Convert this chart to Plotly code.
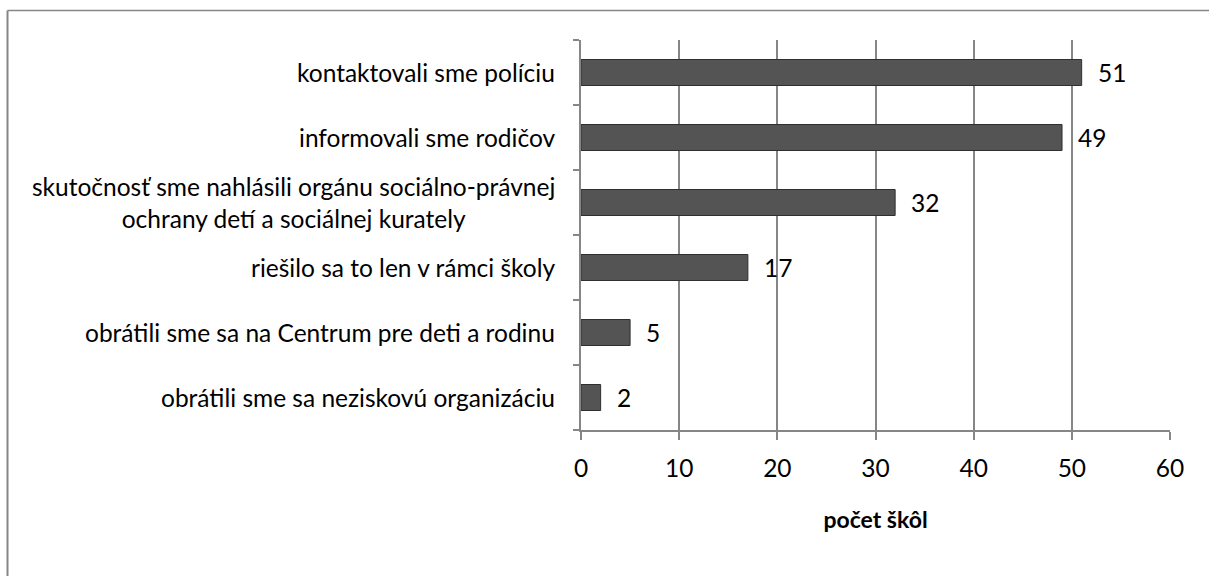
import plotly.graph_objects as go

categories = [
    "kontaktovali sme políciu",
    "informovali sme rodičov",
    "skutočnosť sme nahlásili orgánu sociálno-právnej<br>ochrany detí a sociálnej kurately",
    "riešilo sa to len v rámci školy",
    "obrátili sme sa na Centrum pre deti a rodinu",
    "obrátili sme sa neziskovú organizáciu",
]
values = [51, 49, 32, 17, 5, 2]
x_ticks = [0, 10, 20, 30, 40, 50, 60]
x_title = "počet škôl"

FONT = "Lato"
GRAY = "#868686"
FS = 24.5

fig = go.Figure()
fig.add_trace(go.Bar(
    y=categories, x=values, orientation="h",
    width=0.4,
    marker=dict(color="#545454", line=dict(color="#2f2f2f", width=1)),
    hoverinfo="skip",
))

annotations = []
for c, v in zip(categories, values):
    annotations.append(dict(
        x=0, y=c, xref="paper", yref="y", text=c, showarrow=False,
        xanchor="right", yanchor="middle", align="center", xshift=-24,
        font=dict(family=FONT, size=FS, color="#000000"),
    ))
    annotations.append(dict(
        x=v, y=c, xref="x", yref="y", text=str(v), showarrow=False,
        xanchor="left", yanchor="middle", xshift=14,
        font=dict(family=FONT, size=FS, color="#000000"),
    ))

fig.update_layout(
    width=1209, height=576,
    margin=dict(l=581, r=39, t=40, b=146),
    paper_bgcolor="white", plot_bgcolor="white",
    showlegend=False,
    annotations=annotations,
    shapes=[
        dict(type="line", xref="paper", yref="paper",
             x0=(7.5 - 581) / 589, x1=2, y0=(430 - 10.5) / 390, y1=(430 - 10.5) / 390,
             line=dict(color=GRAY, width=1.5)),
        dict(type="line", xref="paper", yref="paper",
             x0=(7.5 - 581) / 589, x1=(7.5 - 581) / 589, y0=-2, y1=(430 - 10.5) / 390,
             line=dict(color=GRAY, width=2)),
    ],
)
fig.update_xaxes(
    range=[0, 60], tickvals=x_ticks, showgrid=True, gridcolor=GRAY, gridwidth=1.5,
    showline=True, linecolor=GRAY, linewidth=1.5, ticks="outside", ticklen=8,
    tickcolor=GRAY, tickwidth=1.5, zeroline=False, ticklabelstandoff=8,
    tickfont=dict(family=FONT, size=FS, color="#000000"),
    title=dict(text="<b>" + x_title + "</b>", font=dict(family=FONT, size=23, color="#000000"), standoff=31),
)
fig.update_yaxes(
    categoryorder="array", categoryarray=categories[::-1],
    showticklabels=False, showline=True, linecolor=GRAY, linewidth=1.5,
    ticks="outside", tickson="boundaries", ticklen=6, tickcolor=GRAY, tickwidth=1.5,
    showgrid=False, zeroline=False,
)

fig.write_html("out.html", config={"displayModeBar": False},
               post_script="document.body.style.margin='0';")
